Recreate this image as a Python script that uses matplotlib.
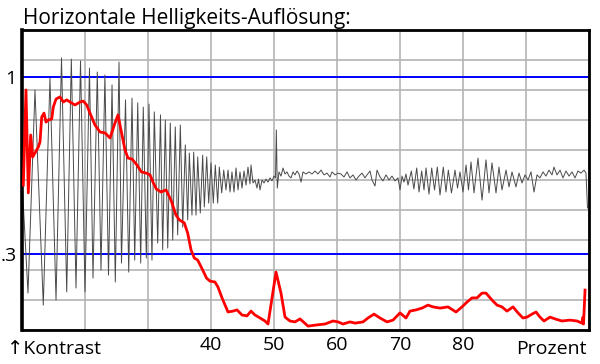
import matplotlib
matplotlib.use("Agg")
import matplotlib.pyplot as plt

# ---------------- data (x in percent, y in grid units 0..100) ----------------
gray_x = [10.0, 10.95, 12.06, 13.38, 14.44, 15.40, 16.27, 17.10, 17.83, 18.57, 19.29, 20.0,
          20.71, 21.27, 21.95, 22.54, 23.16, 23.73, 24.29, 24.81, 25.40, 25.79, 26.43, 26.94,
          27.46, 27.89, 28.37, 28.84, 29.25, 29.73, 30.16, 30.63, 31.0, 31.54, 31.98, 32.33,
          32.75, 33.13, 33.54, 33.92, 34.33, 34.71, 35.13, 35.51, 35.92, 36.30, 36.56, 36.98,
          37.25, 37.62, 37.89, 38.30, 38.68, 38.94, 39.32, 39.63, 40.0, 40.37, 40.68, 41.06,
          41.32, 41.70, 42.02, 42.38, 42.70, 43.02, 43.33, 43.65, 43.97, 44.29, 44.6, 44.92,
          45.24, 45.56, 45.87, 46.19, 46.35, 46.67, 46.98, 47.30, 47.54, 47.78, 48.10, 48.41,
          48.73, 49.05, 49.37, 49.68, 50.0, 50.24, 50.37, 50.52, 50.79, 51.11, 51.43, 51.75,
          52.06, 52.38, 52.70, 53.02, 53.33, 53.65, 53.97, 54.29, 54.6, 55.08, 55.56, 56.03,
          56.51, 56.98, 57.46, 57.94, 58.41, 58.89, 59.21, 59.68, 60.16, 60.63, 61.11, 61.59,
          62.06, 62.54, 63.02, 63.49, 63.97, 64.44, 64.76, 65.24, 65.56, 66.03, 66.35, 66.83,
          67.30, 67.78, 68.25, 68.73, 69.21, 69.68, 70.0, 70.32, 70.63, 70.95, 71.27, 71.8,
          72.2, 72.65, 73.02, 73.44, 73.81, 74.13, 74.60, 75.03, 75.48, 75.92, 76.35, 76.87,
          77.30, 77.67, 78.17, 78.73, 79.13, 79.52, 80.0, 80.48, 80.87, 81.27, 81.75, 82.38,
          83.02, 83.65, 84.13, 84.60, 85.24, 85.71, 86.19, 86.83, 87.30, 87.78, 88.41, 88.89,
          89.37, 89.84, 90.32, 90.79, 91.27, 91.75, 92.22, 92.70, 93.17, 93.65, 94.13, 94.44,
          94.92, 95.40, 95.87, 96.35, 96.83, 97.30, 97.78, 98.25, 98.73, 99.21, 99.52, 99.76]
gray_y = [50.0, 12.3, 80.0, 8.3, 84.0, 10.0, 90.7, 12.7, 90.3, 14.0, 89.7, 12.7,
          87.3, 17.3, 86.0, 20.0, 85.0, 18.3, 81.7, 16.0, 89.3, 22.3, 76.7, 19.3,
          77.3, 23.3, 75.7, 22.3, 74.3, 24.0, 75.3, 23.3, 72.7, 29.0, 71.7, 26.7,
          70.0, 27.3, 69.0, 30.0, 67.7, 31.7, 68.3, 34.3, 61.7, 36.7, 59.0, 38.3,
          59.3, 38.3, 57.7, 39.0, 58.3, 41.0, 57.7, 42.3, 55.7, 42.3, 55.0, 42.3,
          54.3, 45.7, 53.3, 46.7, 53.3, 46.0, 52.7, 46.0, 54.0, 46.7, 52.7, 47.3,
          53.0, 48.3, 54.3, 48.7, 55.0, 49.0, 50.0, 47.3, 50.3, 46.7, 50.0, 49.0,
          50.3, 49.3, 50.7, 49.7, 51.3, 50.7, 66.7, 47.3, 52.7, 51.3, 54.0, 52.0,
          52.7, 51.3, 50.7, 52.7, 51.7, 53.0, 52.0, 49.3, 52.7, 52.0, 52.7, 52.0,
          53.0, 52.0, 53.3, 51.7, 52.3, 51.0, 52.7, 51.7, 52.3, 52.0, 51.0, 52.7,
          50.7, 51.7, 50.0, 51.3, 52.3, 50.7, 51.7, 53.0, 50.0, 48.0, 53.3, 51.0,
          49.7, 51.7, 50.0, 51.3, 49.7, 50.7, 46.7, 51.3, 49.3, 52.0, 48.3, 53.0,
          47.0, 54.0, 46.0, 53.0, 46.7, 54.0, 45.3, 54.0, 46.7, 54.3, 45.0, 54.3,
          46.0, 53.3, 45.7, 53.3, 47.3, 52.7, 46.0, 55.0, 46.7, 56.0, 45.7, 57.3,
          43.3, 56.7, 45.7, 55.7, 45.7, 54.3, 46.7, 53.3, 47.7, 52.7, 47.7, 52.3,
          49.0, 51.7, 50.0, 52.7, 46.0, 51.7, 50.7, 52.7, 51.3, 53.3, 51.7, 54.3,
          51.7, 53.3, 50.7, 53.0, 51.3, 52.7, 50.7, 53.0, 52.3, 53.3, 52.3, 40.7]

red_x = [10.21, 10.63, 11.0, 11.38, 11.70, 12.06, 12.59, 12.86, 13.13, 13.49, 13.81, 14.17,
         14.71, 14.97, 15.40, 16.03, 16.56, 17.10, 17.62, 18.41, 19.21, 19.73, 20.27, 20.79,
         21.59, 22.38, 23.17, 23.97, 24.76, 25.24, 25.71, 26.35, 26.83, 27.46, 28.25, 28.94,
         29.73, 30.32, 30.79, 31.32, 32.06, 32.86, 33.65, 34.44, 34.97, 35.76, 36.30, 36.83,
         37.35, 37.89, 38.68, 39.29, 39.84, 40.63, 41.11, 41.75, 42.70, 43.49, 44.13, 44.92,
         45.71, 46.35, 46.98, 47.78, 48.57, 49.05, 50.32, 51.11, 51.75, 52.54, 53.33, 54.13,
         55.40, 56.83, 58.10, 59.37, 60.16, 60.95, 62.06, 62.86, 64.13, 64.92, 65.87, 66.83,
         67.94, 68.89, 70.0, 70.95, 71.59, 72.54, 73.49, 74.44, 75.24, 76.35, 77.62, 78.89,
         79.84, 80.63, 81.43, 82.22, 83.02, 83.65, 84.60, 85.40, 86.19, 86.98, 87.94, 88.73,
         89.52, 90.16, 90.95, 91.59, 92.22, 92.86, 93.81, 94.60, 95.71, 96.98, 98.10, 98.89,
         99.05, 99.13, 99.37]
red_y = [48.3, 80.0, 45.7, 65.0, 57.7, 59.0, 61.0, 62.7, 71.0, 72.3, 69.3, 70.0,
         70.3, 74.3, 77.0, 77.7, 76.0, 76.7, 76.0, 75.0, 76.0, 76.3, 75.0, 72.3,
         68.3, 66.0, 65.7, 64.0, 69.0, 71.7, 66.7, 60.0, 57.3, 57.0, 55.0, 52.7,
         52.3, 51.7, 49.3, 47.0, 46.0, 46.7, 43.3, 38.3, 36.7, 35.7, 32.3, 26.7,
         24.0, 23.3, 20.0, 17.3, 16.3, 16.0, 14.3, 10.7, 6.0, 6.3, 6.7, 5.0,
         4.7, 6.3, 5.0, 4.0, 3.0, 2.0, 19.3, 12.3, 4.3, 3.0, 2.7, 3.7,
         1.3, 1.7, 2.0, 3.0, 2.7, 2.0, 2.7, 2.3, 2.7, 4.0, 5.3, 4.0,
         2.7, 3.3, 5.7, 4.0, 6.3, 6.7, 7.3, 8.3, 7.7, 7.3, 7.7, 6.0,
         7.7, 9.3, 10.7, 10.7, 12.3, 12.3, 10.0, 8.3, 7.7, 6.3, 7.7, 5.7,
         4.0, 4.3, 5.3, 6.0, 4.3, 3.0, 4.3, 3.7, 3.0, 3.3, 3.0, 2.3,
         4.3, 2.0, 13.3]

ref_levels = [84.3, 25.3]
ref_labels = ["1", ".3"]
x_ticks = [10, 20, 30, 40, 50, 60, 70, 80, 90, 100]
x_tick_labels = ["", "", "", "40", "50", "60", "70", "80", "", ""]
title = "Horizontale Helligkeits-Auflösung:"
fam = ["Open Sans", "DejaVu Sans"]

# ---------------- figure ----------------
fig = plt.figure(figsize=(6.0, 3.64), dpi=100)
ax = fig.add_axes([22 / 600, 1 - 330 / 364, 567 / 600, 300 / 364])
ax.set_xlim(10, 100)
ax.set_ylim(0, 100)

ax.set_xticks(x_ticks)
ax.set_xticklabels(x_tick_labels, family=fam, fontsize=14)
ax.set_yticks(range(0, 101, 10))
ax.set_yticklabels([])
ax.set_yticks(ref_levels, minor=True)
ax.set_yticklabels(ref_labels, minor=True, family=fam, fontsize=14)
ax.tick_params(axis="both", which="both", length=0)
ax.tick_params(axis="x", pad=4)
ax.tick_params(axis="y", which="minor", pad=4)
ax.grid(True, which="major", color="#b4b4b4", linewidth=1.2, zorder=0)
ax.set_axisbelow(True)

for lvl in ref_levels:
    ax.axhline(lvl, color="#0000ff", linewidth=1.4, zorder=1)

ax.plot(gray_x, gray_y, color="#4a4a4a", linewidth=0.7, zorder=2)
ax.plot(red_x, red_y, color="#ff0000", linewidth=2.0, zorder=3,
        solid_joinstyle="round")

for side in ["top", "right", "bottom"]:
    ax.spines[side].set_linewidth(2.0)
    ax.spines[side].set_color("black")
ax.spines["left"].set_linewidth(2.6)
ax.spines["left"].set_color("black")

fig.text(23 / 600, 1 - 24 / 364, title, family=fam, fontsize=15,
         ha="left", va="baseline")
fig.text(7 / 600, 1 - 354 / 364, "↑Kontrast", family=fam, fontsize=14,
         ha="left", va="baseline")
fig.text(587 / 600, 1 - 354 / 364, "Prozent", family=fam, fontsize=14,
         ha="right", va="baseline")

fig.savefig("out.png", dpi=100)
